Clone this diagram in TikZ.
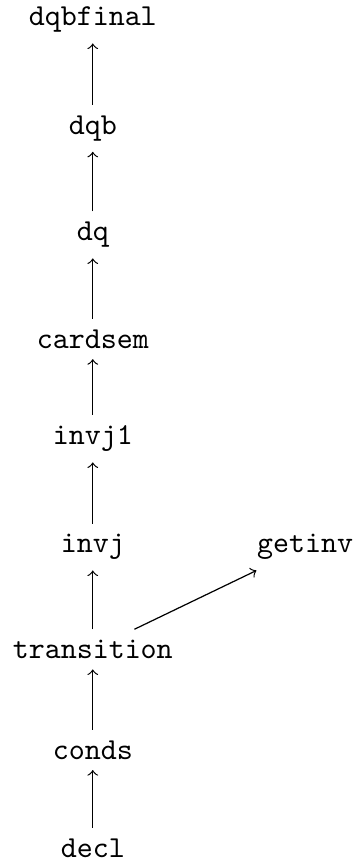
\documentclass[tikz,border=0pt]{standalone}
\usepackage{tikz}

\begin{document}
\begin{tikzpicture}[
    module/.style={font=\ttfamily},
    dep/.style={->}
]
    \useasboundingbox (0,0) rectangle (4.08,9.92);
    \node[module] (dqbfinal) at (1.07,9.69) {dqbfinal};
    \node[module] (dqb) at (1.07,8.44) {dqb};
    \node[module] (dq) at (1.07,7.21) {dq};
    \node[module] (cardsem) at (1.07,6.01) {cardsem};
    \node[module] (invj1) at (1.07,4.86) {invj1};
    \node[module] (invj) at (1.07,3.61) {invj};
    \node[module] (getinv) at (3.52,3.61) {getinv};
    \node[module] (transition) at (1.07,2.43) {transition};
    \node[module] (conds) at (1.07,1.27) {conds};
    \node[module] (decl) at (1.07,0.14) {decl};
    \draw[dep] (dqb) -- (dqbfinal);
    \draw[dep] (dq) -- (dqb);
    \draw[dep] (cardsem) -- (dq);
    \draw[dep] (invj1) -- (cardsem);
    \draw[dep] (invj) -- (invj1);
    \draw[dep] (transition) -- (invj);
    \draw[dep] (transition) -- (getinv);
    \draw[dep] (conds) -- (transition);
    \draw[dep] (decl) -- (conds);
\end{tikzpicture}
\end{document}
